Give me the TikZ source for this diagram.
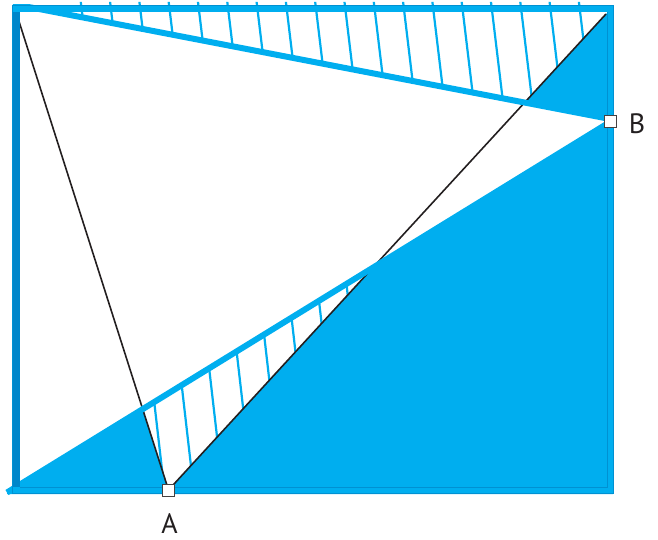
\documentclass[tikz,border=0pt]{standalone}
\usepackage{fontspec}
\setmainfont{PT Sans}
\definecolor{lb}{RGB}{0,174,239}
\definecolor{db}{RGB}{0,134,202}
\definecolor{edgeb}{RGB}{0,145,210}
\definecolor{ink}{RGB}{35,31,32}
\begin{document}
\begin{tikzpicture}[x=1pt,y=-1pt,
  hatchline/.style={lb, line width=2.2pt},
  blk/.style={ink, line width=1.6pt},
  band/.style={lb, line width=6pt},
  marker/.style={draw=ink!85, fill=white, line width=1pt, minimum size=12pt, inner sep=0pt},
  lab/.style={font=\fontsize{28}{30}\selectfont, text=ink, inner sep=0pt, anchor=base}]
\useasboundingbox (0,0) rectangle (658,540);
% key points
\coordinate (TL1) at (13,4);
\coordinate (B1) at (610,119);
\coordinate (Bp) at (610,122);
\coordinate (BL) at (7,492.5);
\coordinate (TLm) at (16,12);
\coordinate (Ap) at (168.5,490);
\coordinate (TR) at (606,14);
\coordinate (X1) at (intersection of TLm--Ap and BL--Bp);
\coordinate (X2) at (intersection of Ap--TR and BL--Bp);
\coordinate (X3) at (intersection of Ap--TR and TL1--B1);
% fills
\fill[lb] (BL) -- (Bp) -- (613,122) -- (613,494) -- (7,494) -- cycle;
\fill[white] (X1) -- (X2) -- (Ap) -- cycle;
\fill[lb] (X3) -- (TR) -- (612,8) -- (612,119) -- (B1) -- cycle;
% top hatch
\begin{scope}
  \clip (TL1) -- (13,2) -- (617,2) -- (X3) -- cycle;
  \foreach \k in {0,...,17}
    \draw[hatchline] ({82+29.3*\k-1.44},0) -- ({82+29.3*\k+15.36},140);
\end{scope}
% bottom hatch
\begin{scope}
  \clip (X1) -- (X2) -- (Ap) -- cycle;
  \foreach \k in {0,...,7}
    \draw[hatchline] ({154+29.4*\k-17.25},250) -- ({154+29.4*\k+11.5},500);
\end{scope}
% black lines
\draw[blk] (TLm) -- (Ap);
\draw[blk] (Ap) -- (TR);
% blue bands
\begin{scope}
  \clip (12,5) rectangle (614,494);
  \draw[band] (TL1) -- (B1);
\end{scope}
\draw[band] (BL) -- (Bp);
% frame
\draw[lb, line width=7pt] (15.5,8.5) rectangle (610.5,490.5);
\fill[db] (12,12) rectangle (20,487);
\draw[edgeb, line width=1pt] (12.5,5.5) rectangle (613.5,493.5);
\draw[edgeb, line width=0.8pt] (20,487) -- (607,487) -- (607,12);
% markers and labels
\node[marker] (A) at (Ap) {};
\node[marker] (B) at (Bp) {};
\node[lab] (LA) at (169.5,533) {A};
\node[lab] (LB) at (637,134) {B};
\end{tikzpicture}
\end{document}
